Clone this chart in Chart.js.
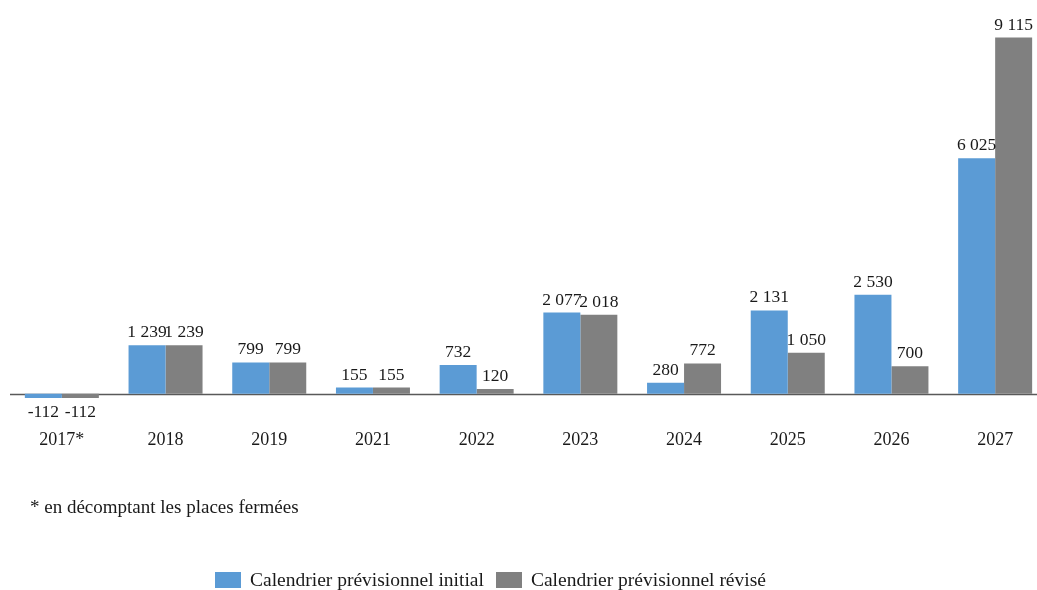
<!DOCTYPE html>
<html>
<head>
<meta charset="utf-8">
<script src="https://cdn.jsdelivr.net/npm/chart.js@4"></script>
<style>
  html, body { margin: 0; padding: 0; background: #fff; overflow: hidden; }
  #wrap { position: absolute; left: 0; top: 0; width: 1048px; height: 590px; }
  #note {
    position: absolute; left: 30px; top: 496px;
    font: 19px "Liberation Serif", serif; color: #1a1a1a; line-height: 22px;
  }
  #legend {
    position: absolute; left: 215px; top: 569px; display: flex; align-items: center;
    font: 19.5px "Liberation Serif", serif; color: #1a1a1a; line-height: 22px;
  }
  #legend .item { display: flex; align-items: center; margin-right: 12px; }
  #legend .box { width: 26px; height: 16px; margin-right: 9px; }
</style>
</head>
<body>
<div id="wrap"><canvas id="chart"></canvas></div>
<div id="note">* en décomptant les places fermées</div>
<div id="legend"></div>
<script>
const years = ["2017*", "2018", "2019", "2021", "2022", "2023", "2024", "2025", "2026", "2027"];
const initial = [-112, 1239, 799, 155, 732, 2077, 280, 2131, 2530, 6025];
const revised = [-112, 1239, 799, 155, 120, 2018, 772, 1050, 700, 9115];
const seriesNames = ["Calendrier prévisionnel initial", "Calendrier prévisionnel révisé"];
const colors = ["#5B9BD5", "#808080"];

const serif = "'Liberation Serif', serif";

function fmt(v) {
  const s = String(Math.abs(v)).replace(/\B(?=(\d{3})+(?!\d))/g, " ");
  return (v < 0 ? "-" : "") + s;
}

// zero line + value labels above / below each bar
const barLabels = {
  id: "barLabels",
  beforeDatasetsDraw(chart) {
    const { ctx, chartArea, scales } = chart;
    const y0 = Math.round(scales.y.getPixelForValue(0)) + 0.5;
    ctx.save();
    ctx.strokeStyle = "#595959";
    ctx.lineWidth = 1.3;
    ctx.beginPath();
    ctx.moveTo(chartArea.left, y0);
    ctx.lineTo(chartArea.right, y0);
    ctx.stroke();
    ctx.restore();
  },
  afterDatasetsDraw(chart) {
    const { ctx } = chart;
    ctx.save();
    ctx.font = "17.5px " + serif;
    ctx.fillStyle = "#1a1a1a";
    ctx.textAlign = "center";
    ctx.textBaseline = "alphabetic";
    chart.data.datasets.forEach((ds, i) => {
      chart.getDatasetMeta(i).data.forEach((bar, j) => {
        const v = ds.data[j];
        const y = v < 0 ? bar.y + 19 : bar.y - 8;
        ctx.fillText(fmt(v), bar.x, y);
      });
    });
    ctx.restore();
  }
};

// legend built as html so it can sit where the original has it
const htmlLegend = {
  id: "htmlLegend",
  afterUpdate(chart) {
    const el = document.getElementById("legend");
    el.innerHTML = "";
    const items = chart.options.plugins.legend.labels.generateLabels(chart);
    items.forEach(it => {
      const item = document.createElement("div");
      item.className = "item";
      const box = document.createElement("span");
      box.className = "box";
      box.style.background = it.fillStyle;
      const txt = document.createElement("span");
      txt.textContent = it.text;
      item.appendChild(box);
      item.appendChild(txt);
      el.appendChild(item);
    });
  }
};

new Chart(document.getElementById("chart"), {
  type: "bar",
  data: {
    labels: years,
    datasets: [
      { label: seriesNames[0], data: initial, backgroundColor: colors[0] },
      { label: seriesNames[1], data: revised, backgroundColor: colors[1] }
    ]
  },
  options: {
    responsive: true,
    maintainAspectRatio: false,
    animation: false,
    categoryPercentage: 0.7136,
    barPercentage: 1,
    layout: { padding: { left: 10, right: 1, top: 3, bottom: 29 } },
    plugins: {
      tooltip: { enabled: false },
      legend: { display: false }
    },
    scales: {
      x: {
        grid: { display: false, drawTicks: false },
        border: { display: false },
        ticks: { color: "#1a1a1a", padding: 8, font: { family: serif, size: 18 } },
        afterFit(scale) { scale.height = 140; }
      },
      y: {
        min: -700,
        max: 10000,
        grid: { display: false, drawTicks: false },
        border: { display: false },
        ticks: { display: false }
      }
    }
  },
  plugins: [barLabels, htmlLegend]
});
</script>
</body>
</html>
